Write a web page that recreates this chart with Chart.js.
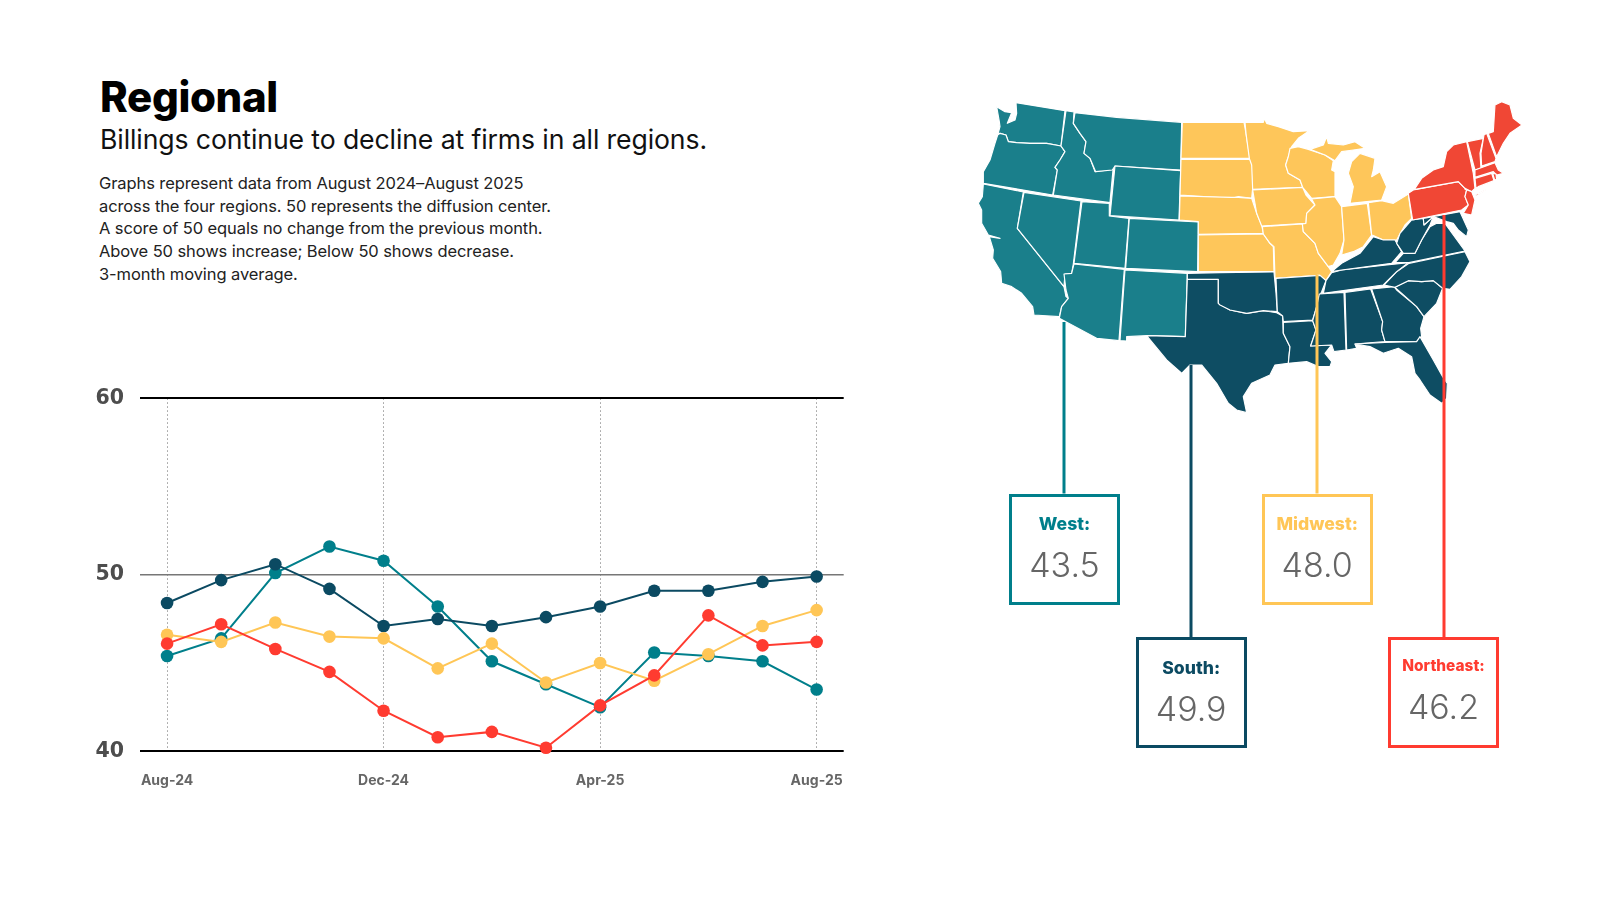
<!DOCTYPE html>
<html>
<head>
<meta charset="utf-8">
<script src="https://cdn.jsdelivr.net/npm/chart.js@4"></script>
<style>
  html, body { margin: 0; padding: 0; background: #fff; }
  body { width: 1600px; height: 898px; position: relative; overflow: hidden; font-family: Inter, sans-serif; }
  .abs { position: absolute; white-space: nowrap; }
  #title { left: 100px; top: 70px; font-size: 42px; line-height: 54px; font-weight: 800; color: #000; letter-spacing: -0.35px; }
  #subtitle { left: 100px; top: 121px; font-size: 26.6px; line-height: 36px; color: #111; font-weight: 400; letter-spacing: -0.1px; }
  #notes { left: 99px; top: 172px; font-size: 16.5px; line-height: 22.7px; color: #222; letter-spacing: -0.1px; }
  #chartWrap { position: absolute; left: 90px; top: 380px; width: 760px; height: 420px; }
  #map { position: absolute; left: 0; top: 0; }
  .box { position: absolute; box-sizing: border-box; width: 111px; height: 111px; border: 3px solid; background: #fff; text-align: center; }
  .box .name { position: absolute; left: -10px; right: -10px; line-height: 20px; font-weight: 800; }
  .box .val { position: absolute; left: -10px; right: -10px; font-size: 34px; line-height: 40px; font-weight: 300; color: #666; }
</style>
</head>
<body>
<div class="abs" id="title">Regional</div>
<div class="abs" id="subtitle">Billings continue to decline at firms in all regions.</div>
<div class="abs" id="notes">Graphs represent data from August 2024–August 2025<br>across the four regions. 50 represents the diffusion center.<br>A score of 50 equals no change from the previous month.<br>Above 50 shows increase; Below 50 shows decrease.<br>3-month moving average.</div>

<div id="chartWrap"><canvas id="regional" width="760" height="420"></canvas></div>

<svg id="map" width="1600" height="898" xmlns="http://www.w3.org/2000/svg"></svg>
<div id="boxes"></div>

<script>
// data
var months = ['Aug-24','Sep-24','Oct-24','Nov-24','Dec-24','Jan-25','Feb-25','Mar-25','Apr-25','May-25','Jun-25','Jul-25','Aug-25'];
var west = [45.4,46.4,50.1,51.6,50.8,48.2,45.1,43.8,42.5,45.6,45.4,45.1,43.5];
var south = [48.4,49.7,50.6,49.2,47.1,47.5,47.1,47.6,48.2,49.1,49.1,49.6,49.9];
var midwest = [46.6,46.2,47.3,46.5,46.4,44.7,46.1,43.9,45.0,44.0,45.5,47.1,48.0];
var northeast = [46.1,47.2,45.8,44.5,42.3,40.8,41.1,40.2,42.6,44.3,47.7,46.0,46.2];
var yTicks = [40,50,60];

var TEAL = '#007f8b', NAVY = '#0b4a62', YELLOW = '#ffc656', RED = '#ff3b30';

function ds(label, data, color) {
    return {
        label: label, data: data,
        borderColor: color, backgroundColor: color,
        borderWidth: 2, tension: 0,
        pointRadius: 6.3, pointBorderWidth: 0, pointBackgroundColor: color,
        clip: false
    };
}

new Chart(document.getElementById('regional').getContext('2d'), {
    type: 'line',
    data: {
        labels: months,
        // first dataset is drawn on top
        datasets: [ds('Northeast', northeast, RED), ds('Midwest', midwest, YELLOW), ds('South', south, NAVY), ds('West', west, TEAL)]
    },
    options: {
        responsive: false,
        animation: false,
        layout: { padding: { top: 18.3, left: 0, right: 0, bottom: 0 } },
        plugins: { legend: { display: false }, tooltip: { enabled: false } },
        scales: {
            x: {
                type: 'category',
                offset: true,
                afterFit: function (s) { s.height = 48.7; s.paddingLeft = 0; s.paddingRight = 0; },
                border: { display: false, dash: [1.5, 2.5] },
                grid: {
                    drawTicks: false,
                    lineWidth: 1,
                    color: function (c) { return c.index % 4 === 0 ? '#999' : 'rgba(0,0,0,0)'; }
                },
                ticks: {
                    autoSkip: false, maxRotation: 0, padding: 21,
                    color: '#666', font: { family: 'Inter', size: 14, weight: '700' },
                    callback: function (v, i) { return i % 4 === 0 ? months[i] : ''; }
                }
            },
            y: {
                min: 40, max: 60,
                afterFit: function (s) { s.width = 50; s.paddingTop = 0; s.paddingBottom = 0; },
                afterBuildTicks: function (s) { s.ticks = yTicks.map(function (v) { return { value: v }; }); },
                border: { display: false },
                grid: {
                    drawTicks: false,
                    color: function (c) { return c.tick.value === 50 ? '#777' : '#000'; },
                    lineWidth: function (c) { return c.tick.value === 50 ? 1.5 : 2; }
                },
                ticks: {
                    padding: 16, color: '#4d4d4d',
                    font: { family: 'DejaVu Sans', size: 20.5, weight: '700' }
                }
            }
        }
    }
});

// map outlines, traced by hand: western states
var MAP_TEAL = '#1a7f8b', MAP_NAVY = '#0e4d63', MAP_YELLOW = '#fec65a', MAP_RED = '#f04735';
var shapesWest = [
  [MAP_TEAL,'198,38 345,62 333,168 290,160 240,160 200,158 175,155 168,135 150,130 143,135 150,110 148,95 140,50 165,65 185,68 172,100 195,90 200,70'],
  [MAP_TEAL,'143,135 150,130 168,135 175,155 200,158 240,160 290,160 333,168 345,185 330,210 315,232 322,240 308,315 100,280 100,245 120,210 135,160'],
  [MAP_TEAL,'100,282 220,306 202,415 342,590 348,620 355,625 335,650 328,680 252,675 248,650 215,610 185,590 155,580 152,545 128,505 130,480 118,440 150,445 115,435 95,400 95,360 85,340 97,320'],
  [MAP_TEAL,'222,307 393,333 370,522 365,550 345,552 342,590 202,415'],
  [MAP_TEAL,'348,62 372,66 370,100 390,130 408,155 402,190 420,205 435,245 485,238 490,230 480,338 310,315 322,240 315,232 330,210 345,185 333,168'],
  [MAP_TEAL,'375,68 500,82 695,97 692,240 495,228 487,240 437,245 420,205 402,190 408,155 390,130 370,100'],
  [MAP_TEAL,'495,228 692,242 687,390 480,377'],
  [MAP_TEAL,'396,335 478,340 478,378 537,385 525,535 372,520'],
  [MAP_TEAL,'538,385 745,396 743,545 527,535'],
  [MAP_TEAL,'372,522 523,538 507,752 440,745 328,685 335,650 355,625 348,600 342,552 365,550'],
  [MAP_TEAL,'525,540 712,550 706,740 590,737 530,740 530,753 510,752'],
  [MAP_NAVY,'712,568 805,568 805,640 840,660 890,670 940,662 980,668 998,678 1000,730 1020,770 1015,820 975,825 960,855 905,880 880,920 890,968 860,960 835,940 800,880 755,825 720,825 695,850 650,810 590,737 706,740']
];
// eastern states
var shapesEast = [
  [MAP_YELLOW,'-113,97 72,97 78,130 90,205 -117,205'],
  [MAP_YELLOW,'-117,208 90,208 98,230 98,295 95,325 55,320 35,325 -120,315'],
  [MAP_YELLOW,'-120,318 35,322 55,322 95,325 110,370 125,405 130,430 -65,433 -65,395 -122,390'],
  [MAP_YELLOW,'-65,435 130,432 150,460 160,470 162,545 -65,545'],
  [MAP_YELLOW,'75,97 130,97 133,85 140,100 175,110 220,125 268,122 235,145 215,170 205,200 197,225 205,250 240,270 248,292 98,298 95,225 88,205 78,130'],
  [MAP_YELLOW,'98,300 248,292 258,315 285,345 260,370 258,400 125,408 110,370'],
  [MAP_YELLOW,'127,410 247,402 250,425 285,460 295,490 325,530 335,545 318,572 300,556 165,565 162,470 150,460 130,432'],
  [MAP_YELLOW,'210,175 235,170 265,178 315,195 340,212 335,240 345,245 345,320 275,325 248,292 240,270 205,250 197,225 205,200'],
  [MAP_YELLOW,'275,327 345,320 365,350 372,450 360,490 340,525 325,530 295,490 285,460 250,425 247,402 258,400 260,370 285,345'],
  [MAP_YELLOW,'365,350 442,340 455,435 430,470 400,485 365,495 372,450'],
  [MAP_YELLOW,'270,178 310,165 320,140 325,160 370,165 405,155 435,175 400,180 365,185 345,212 315,195'],
  [MAP_YELLOW,'390,340 400,290 385,250 395,215 420,190 465,205 460,240 455,260 480,245 500,290 485,330'],
  [MAP_YELLOW,'445,338 485,332 520,340 565,312 575,385 555,405 530,450 490,450 460,437 455,435'],
  [MAP_NAVY,'0,548 162,546 168,610 172,665 130,662 80,670 30,660 0,645 -5,640 -5,568 -98,568 -98,550'],
  [MAP_NAVY,'168,565 300,556 318,572 305,605 295,625 290,650 278,690 190,695 188,678 172,665'],
  [MAP_NAVY,'190,697 278,692 288,720 272,768 335,765 315,790 335,815 330,830 295,830 260,815 205,820 210,770 190,730'],
  [MAP_NAVY,'298,612 372,607 378,780 342,785 335,765 272,768 288,720 278,692 290,650 295,625'],
  [MAP_NAVY,'375,607 452,597 488,695 485,720 495,755 405,762 410,775 380,780'],
  [MAP_NAVY,'455,597 522,590 530,600 590,650 612,680 602,715 605,740 590,755 495,755 485,720 488,695'],
  [MAP_NAVY,'405,762 495,757 590,755 600,740 640,810 668,860 682,880 680,925 665,940 630,915 600,870 585,850 575,800 535,775 490,790 450,770'],
  [MAP_NAVY,'525,592 565,572 605,575 640,572 668,595 650,640 612,680 590,650'],
  [MAP_NAVY,'492,585 530,545 567,520 735,485 750,515 725,560 690,598 668,595 640,572 605,575 565,572 525,592'],
  [MAP_NAVY,'335,548 365,540 500,525 565,518 530,545 490,585 310,610 318,572'],
  [MAP_NAVY,'335,545 365,520 420,490 460,440 490,450 525,450 545,485 515,520 365,540'],
  [MAP_NAVY,'525,518 550,490 585,490 605,450 630,410 650,400 675,400 700,435 735,483 567,518'],
  [MAP_NAVY,'575,390 610,385 612,405 640,380 630,405 605,450 585,490 550,490 530,460 540,430'],
  [MAP_NAVY,'610,385 720,365 745,420 740,440 715,420 700,400 680,395 640,380 612,405'],
  [MAP_RED,'565,310 580,300 715,275 740,300 735,320 745,345 725,360 578,390'],
  [MAP_RED,'585,295 605,265 640,240 670,230 680,185 700,165 740,155 760,250 765,295 755,305 735,295 715,275 585,298'],
  [MAP_RED,'735,298 755,305 765,330 755,375 730,370 745,345 735,320 740,300'],
  [MAP_RED,'742,155 790,145 780,190 783,235 765,240'],
  [MAP_RED,'792,135 800,130 828,205 825,215 785,228 783,190'],
  [MAP_RED,'805,130 820,125 825,45 845,35 870,45 880,85 906,105 870,130 850,160 830,200'],
  [MAP_RED,'765,240 825,218 835,240 850,250 830,255 820,245 765,262'],
  [MAP_RED,'765,265 815,250 822,272 775,290 768,295'],
  [MAP_RED,'818,250 828,252 830,268 824,270'],
  [MAP_RED,'765,315 800,298 770,318']
];

// callout boxes: region, reading, colour, left, top, line x, line start y, label y, value y, label size
var callouts = [
  ['West', west, TEAL, 1009, 493.5, 1064, 322, 17, 48, 17.6],
  ['South', south, NAVY, 1135.7, 637, 1191, 365, 18, 49, 17.6],
  ['Midwest', midwest, YELLOW, 1261.7, 493.5, 1317, 275, 17, 48, 17.6],
  ['Northeast', northeast, RED, 1388, 637, 1444, 215, 16, 47, 15.4]
];

function drawMap() {
    var NS = 'http://www.w3.org/2000/svg', svg = document.getElementById('map');
    function group(list, tx) {
        var g = document.createElementNS(NS, 'g');
        g.setAttribute('transform', 'translate(' + tx + ',90) scale(0.3333)');
        list.forEach(function (s) {
            var p = document.createElementNS(NS, 'polygon');
            p.setAttribute('points', s[1]);
            p.setAttribute('fill', s[0]);
            p.setAttribute('stroke', '#fff');
            p.setAttribute('stroke-width', '3.5');
            p.setAttribute('stroke-linejoin', 'round');
            g.appendChild(p);
        });
        svg.appendChild(g);
    }
    group(shapesWest, 950);
    group(shapesEast, 1220);
    callouts.forEach(function (c) {
        var l = document.createElementNS(NS, 'line');
        l.setAttribute('x1', c[5]); l.setAttribute('x2', c[5]);
        l.setAttribute('y1', c[6]); l.setAttribute('y2', c[4]);
        l.setAttribute('stroke', c[2]); l.setAttribute('stroke-width', '3');
        svg.appendChild(l);
    });
    var host = document.getElementById('boxes');
    callouts.forEach(function (c) {
        var d = document.createElement('div');
        d.className = 'box';
        d.style.left = c[3] + 'px';
        d.style.top = c[4] + 'px';
        d.style.borderColor = c[2];
        var last = c[1][c[1].length - 1].toFixed(1);
        d.innerHTML = '<div class="name" style="top:' + c[7] + 'px;font-size:' + c[9] + 'px;color:' + c[2] + '">' + c[0] + ':</div>' +
                      '<div class="val" style="top:' + c[8] + 'px">' + last + '</div>';
        host.appendChild(d);
    });
}
drawMap();
</script>
</body>
</html>
